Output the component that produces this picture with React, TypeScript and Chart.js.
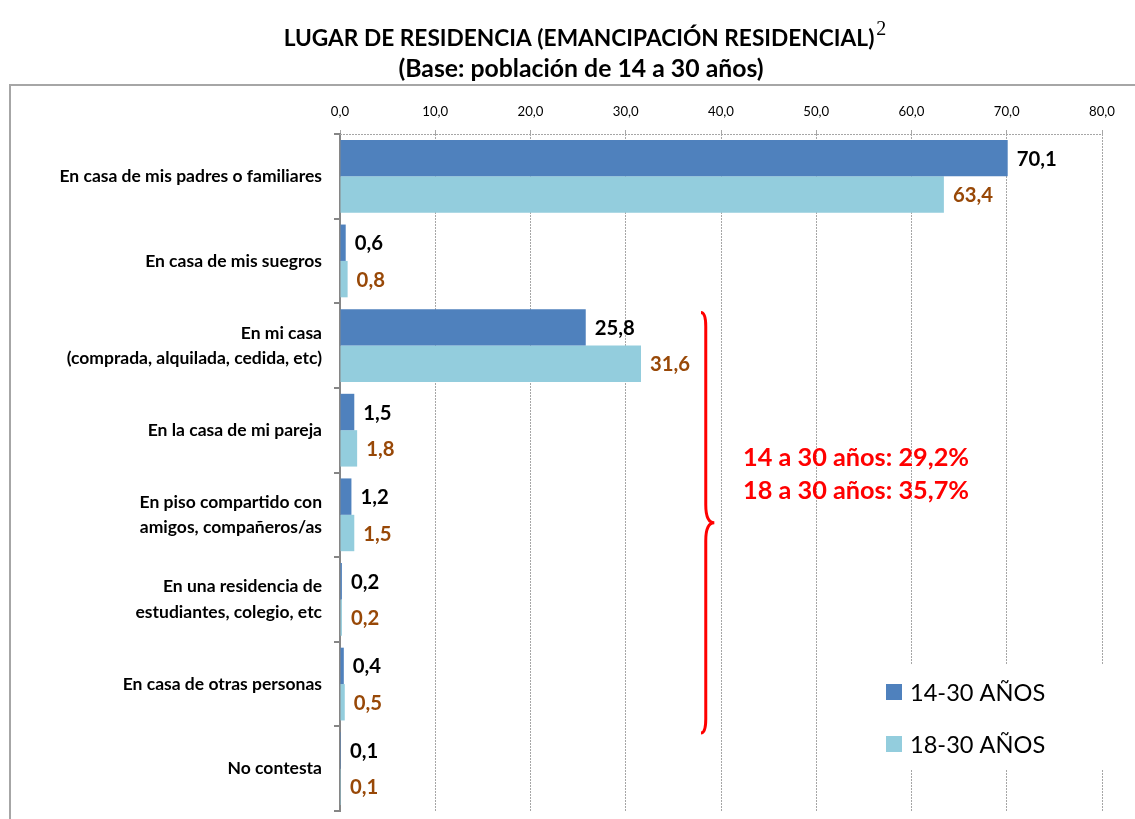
import React, { useEffect, useRef } from "react";
import { Chart, registerables } from "chart.js";

Chart.register(...registerables);

const categories: (string | string[])[] = [
  "En casa de mis padres o familiares",
  "En casa de mis suegros",
  ["En mi casa", "(comprada, alquilada, cedida, etc)"],
  "En la casa de mi pareja",
  ["En piso compartido con", "amigos, compañeros/as"],
  ["En una residencia de", "estudiantes, colegio, etc"],
  "En casa de otras personas",
  "No contesta",
];
const series1430 = [70.1, 0.6, 25.8, 1.5, 1.2, 0.2, 0.4, 0.1];
const series1830 = [63.4, 0.8, 31.6, 1.8, 1.5, 0.2, 0.5, 0.1];
const seriesNames = ["14-30 AÑOS", "18-30 AÑOS"];
const titleLine1 = "LUGAR DE RESIDENCIA (EMANCIPACIÓN RESIDENCIAL)";
const titleSup = "2";
const titleLine2 = "(Base: población de 14 a 30 años)";
const annotationLines = ["14 a 30 años: 29,2%", "18 a 30 años: 35,7%"];

const FONT = "Lato, 'Open Sans', sans-serif";
const C1 = "#4F81BD";
const C2 = "#93CDDD";
const LABEL2 = "#984807";

const fmt = (v: number) => v.toFixed(1).replace(".", ",");

// choose a font size so that a sample text has the given width
function fitSize(text: string, weight: string, target: number): number {
  const c = document.createElement("canvas").getContext("2d")!;
  c.font = `${weight} 100px ${FONT}`;
  const w = c.measureText(text).width;
  return Math.round((100 * target) / w * 10) / 10;
}

export default function App() {
  const ref = useRef<HTMLCanvasElement | null>(null);
  useEffect(() => {
    if (!ref.current) return;
    const sz = {
      cat: fitSize("En casa de mis padres o familiares", "bold", 262),
      tick: fitSize("80,0", "normal", 26),
      title: fitSize(titleLine1, "bold", 592),
      title2: fitSize(titleLine2, "bold", 366),
      val: fitSize("70,1", "bold", 40),
      note: fitSize(annotationLines[0], "bold", 226),
      legend: fitSize(seriesNames[0], "normal", 135),
    };

    const overlay = {
      id: "overlay",
      beforeDraw(chart: any) {
        const { ctx, width, height } = chart;
        ctx.save();
        ctx.fillStyle = "#ffffff";
        ctx.fillRect(0, 0, width, height);
        ctx.restore();
      },
      afterDraw(chart: any) {
        const { ctx, chartArea } = chart;
        const xs = chart.scales.x;
        const ys = chart.scales.y;
        ctx.save();

        // outer frame
        ctx.strokeStyle = "#A6A6A6";
        ctx.lineWidth = 2;
        ctx.beginPath();
        ctx.moveTo(1135, 85);
        ctx.lineTo(10, 85);
        ctx.lineTo(10, 819);
        ctx.stroke();

        // top dotted axis line
        ctx.strokeStyle = "#A6A6A6";
        ctx.lineWidth = 1;
        ctx.setLineDash([2, 1]);
        ctx.beginPath();
        ctx.moveTo(chartArea.left, chartArea.top + 0.5);
        ctx.lineTo(chartArea.right, chartArea.top + 0.5);
        ctx.stroke();
        ctx.setLineDash([]);

        // title
        ctx.fillStyle = "#000";
        ctx.textBaseline = "middle";
        ctx.textAlign = "center";
        ctx.font = `bold ${sz.title}px ${FONT}`;
        const cx = 579;
        ctx.fillText(titleLine1, cx, 39);
        const w1 = ctx.measureText(titleLine1).width;
        ctx.font = `bold ${sz.title2}px ${FONT}`;
        ctx.fillText(titleLine2, cx + 2, 69);
        ctx.textAlign = "left";
        ctx.font = `20px 'Liberation Serif', serif`;
        ctx.fillText(titleSup, cx + w1 / 2 + 2, 30);

        // data labels
        ctx.font = `bold ${sz.val}px ${FONT}`;
        ctx.textAlign = "left";
        [0, 1].forEach((d) => {
          const meta = chart.getDatasetMeta(d);
          const vals = d === 0 ? series1430 : series1830;
          ctx.fillStyle = d === 0 ? "#000" : LABEL2;
          meta.data.forEach((el: any, i: number) => {
            ctx.fillText(fmt(vals[i]), el.x + 9, el.y + 1);
          });
        });

        // brace
        const bx = xs.getPixelForValue(38.4);
        const tipX = xs.getPixelForValue(39.3);
        const endX = xs.getPixelForValue(37.9);
        const top = ys.getPixelForValue(2) - 33;
        const bottom = ys.getPixelForValue(6) + 49;
        const mid = (top + bottom) / 2;
        ctx.strokeStyle = "#FF0000";
        ctx.lineWidth = 3;
        ctx.beginPath();
        ctx.moveTo(endX, top);
        ctx.quadraticCurveTo(bx, top, bx, top + 14);
        ctx.lineTo(bx, mid - 18);
        ctx.quadraticCurveTo(bx, mid, tipX, mid);
        ctx.quadraticCurveTo(bx, mid, bx, mid + 18);
        ctx.lineTo(bx, bottom - 14);
        ctx.quadraticCurveTo(bx, bottom, endX, bottom);
        ctx.stroke();

        // annotation text
        ctx.fillStyle = "#FF0000";
        ctx.font = `bold ${sz.note}px ${FONT}`;
        ctx.textAlign = "left";
        ctx.fillText(annotationLines[0], 743, 458);
        ctx.fillText(annotationLines[1], 743, 491);

        // legend
        ctx.fillStyle = "#ffffff";
        ctx.fillRect(870, 665, 240, 104);
        ctx.font = `${sz.legend}px ${FONT}`;
        [C1, C2].forEach((c, i) => {
          const y = 692 + i * 52;
          ctx.fillStyle = c;
          ctx.fillRect(886, y - 8, 16, 16);
          ctx.fillStyle = "#000";
          ctx.fillText(seriesNames[i], 910, y + 1);
        });

        ctx.restore();
      },
    };

    const chart = new Chart(ref.current, {
      type: "bar",
      data: {
        labels: categories,
        datasets: [
          { label: seriesNames[0], data: series1430, backgroundColor: C1, categoryPercentage: 0.86, barPercentage: 1 },
          { label: seriesNames[1], data: series1830, backgroundColor: C2, categoryPercentage: 0.86, barPercentage: 1 },
        ],
      },
      options: {
        indexAxis: "y",
        responsive: false,
        animation: false,
        layout: { padding: { left: 10, right: 33, top: 90, bottom: 8 } },
        plugins: { legend: { display: false }, tooltip: { enabled: false }, title: { display: false } },
        scales: {
          x: {
            position: "top",
            min: 0,
            max: 80,
            ticks: {
              stepSize: 10,
              color: "#000",
              font: { family: FONT, size: sz.tick },
              padding: 10,
              callback: (v: any) => fmt(Number(v)),
            },
            grid: { color: "#A6A6A6", lineWidth: 1, drawTicks: true, tickLength: 4 },
            border: { display: false, dash: [2, 1] },
            afterFit: (s: any) => {
              s.height = 44;
              s.paddingLeft = 0;
              s.paddingRight = 0;
            },
          },
          y: {
            ticks: {
              color: "#000",
              font: { family: FONT, size: sz.cat, weight: "bold", lineHeight: 1.45 },
              padding: 12,
            },
            grid: { drawOnChartArea: false, drawTicks: true, tickLength: 6, color: "#868686", lineWidth: 2, offset: true },
            border: { display: true, color: "#868686", width: 2 },
            afterFit: (s: any) => {
              s.width = 330;
              s.paddingTop = 0;
              s.paddingBottom = 0;
            },
          },
        },
      },
      plugins: [overlay],
    });
    return () => chart.destroy();
  }, []);
  return (
    <div style={{ position: "absolute", left: 0, top: 0, width: 1135, height: 819 }}>
      <canvas ref={ref} width={1135} height={819} />
    </div>
  );
}
